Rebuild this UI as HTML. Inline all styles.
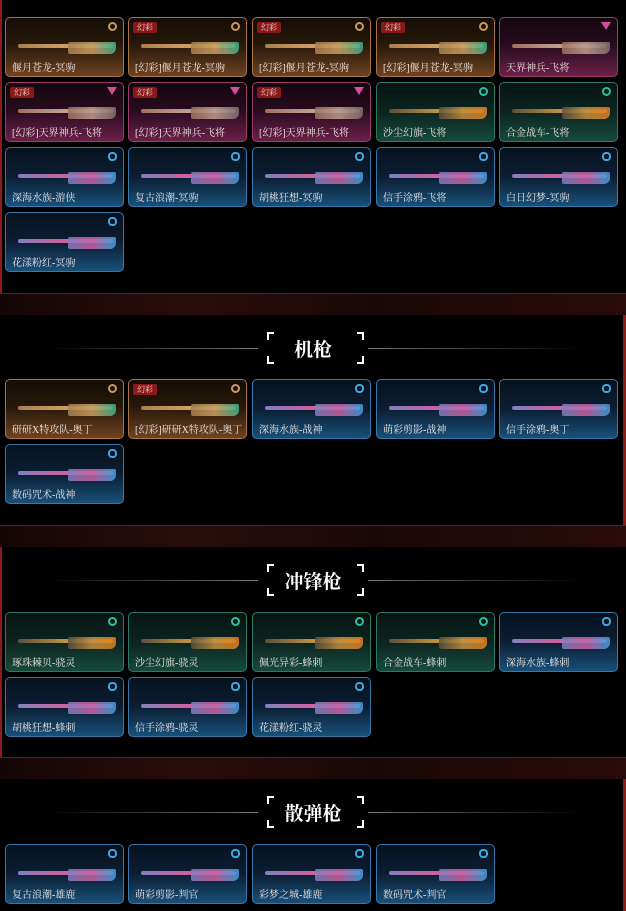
<!DOCTYPE html>
<html><head><meta charset="utf-8"><style>
*{margin:0;padding:0;box-sizing:border-box}
body{width:626px;height:911px;background:#000;position:relative;overflow:hidden;font-family:"Liberation Serif","Noto Serif CJK SC",serif}
.sec{position:absolute;left:0;width:626px;background:#000;border-bottom:1px solid #6a1c1c}
.band{position:absolute;left:0;width:626px;background:linear-gradient(90deg,#140606,#2a0c0c 30%,#1a0808 60%,#2a0a0a);border-top:1px solid #6a1c1c;border-bottom:1px solid #6a1c1c}
.c{position:absolute;width:119px;height:60px;border-radius:5px;border:1px solid;overflow:hidden}
.g{background:linear-gradient(#140d08,#261709 45%,#6e4222);border-color:#a87548}
.p{background:linear-gradient(#14070f,#260b1c 45%,#6a2048);border-color:#9a3c6c}
.n{background:linear-gradient(#061412,#0c241f 50%,#154a3c);border-color:#2c7a62}
.b{background:linear-gradient(#06111e,#0c1e33 50%,#17507a);border-color:#3a78aa}
.c .l{position:absolute;left:6px;bottom:2px;font-size:10px;color:#f0e6e0;white-space:nowrap}
.c .t{position:absolute;left:4px;top:4px;width:24px;height:11px;background:#8a1818;color:#f2d0d0;font-size:8px;line-height:11px;text-align:center;border-radius:2px}
.c .i{position:absolute;right:6px;top:4px;width:9px;height:9px;border-radius:50%;border:2px solid}
.g .i{border-color:#c89a60}.p .i{border:none;width:0;height:0;border-left:5px solid transparent;border-right:5px solid transparent;border-top:8px solid #d050a0;border-radius:0}
.n .i{border-color:#30c0a0}.b .i{border-color:#40a8e0;border-radius:45%}
.c .w{position:absolute;left:12px;top:26px;width:95px;height:4px;border-radius:2px}
.c .s{position:absolute;left:62px;top:24px;width:48px;height:12px;border-radius:2px 2px 6px 2px;opacity:.85}
.g .w,.g .s{background:linear-gradient(90deg,#a88050,#d0a060,#40b090)}
.p .w,.p .s{background:linear-gradient(90deg,#a07060,#c0a090,#807070)}
.n .w,.n .s{background:linear-gradient(90deg,#5a5040,#c09040,#e08020)}
.b .w,.b .s{background:linear-gradient(90deg,#8080c0,#d060a0,#40a0e0)}
.h{position:absolute;left:0;width:626px;height:36px}
.h .ln1{position:absolute;left:45px;top:17px;width:213px;height:1px;background:linear-gradient(90deg,transparent,#777)}
.h .ln2{position:absolute;left:368px;top:17px;width:213px;height:1px;background:linear-gradient(90deg,#777,transparent)}
.h .br{position:absolute;left:267px;top:1px;width:97px;height:32px}
.h .br i{position:absolute;width:7px;height:8px;border:0 solid #fff}
.h .tt{position:absolute;left:0;width:626px;top:4px;text-align:center;color:#fff;font-size:19px;font-weight:bold;font-family:"Liberation Serif","Noto Serif CJK SC",serif}
</style></head><body>

<div class="sec" style="top:0;height:294px;border-left:2px solid #8a1c1c"></div>
<div class="band" style="top:293px;height:23px"></div>
<div class="sec" style="top:315px;height:211px;border-right:3px solid #8a1c1c"></div>
<div class="band" style="top:525px;height:23px"></div>
<div class="sec" style="top:547px;height:211px;border-left:2px solid #8a1c1c"></div>
<div class="band" style="top:757px;height:23px"></div>
<div class="sec" style="top:779px;height:132px;border-bottom:none;border-right:3px solid #8a1c1c"></div>

<div class="c g" style="left:5px;top:17px"><div class="w"></div><div class="s"></div><div class="i"></div><div class="l">偃月苍龙-冥驹</div></div>
<div class="c g" style="left:128px;top:17px"><div class="w"></div><div class="s"></div><div class="t">幻彩</div><div class="i"></div><div class="l">[幻彩]偃月苍龙-冥驹</div></div>
<div class="c g" style="left:252px;top:17px"><div class="w"></div><div class="s"></div><div class="t">幻彩</div><div class="i"></div><div class="l">[幻彩]偃月苍龙-冥驹</div></div>
<div class="c g" style="left:376px;top:17px"><div class="w"></div><div class="s"></div><div class="t">幻彩</div><div class="i"></div><div class="l">[幻彩]偃月苍龙-冥驹</div></div>
<div class="c p" style="left:499px;top:17px"><div class="w"></div><div class="s"></div><div class="i"></div><div class="l">天界神兵-飞将</div></div>

<div class="c p" style="left:5px;top:82px"><div class="w"></div><div class="s"></div><div class="t">幻彩</div><div class="i"></div><div class="l">[幻彩]天界神兵-飞将</div></div>
<div class="c p" style="left:128px;top:82px"><div class="w"></div><div class="s"></div><div class="t">幻彩</div><div class="i"></div><div class="l">[幻彩]天界神兵-飞将</div></div>
<div class="c p" style="left:252px;top:82px"><div class="w"></div><div class="s"></div><div class="t">幻彩</div><div class="i"></div><div class="l">[幻彩]天界神兵-飞将</div></div>
<div class="c n" style="left:376px;top:82px"><div class="w"></div><div class="s"></div><div class="i"></div><div class="l">沙尘幻旗-飞将</div></div>
<div class="c n" style="left:499px;top:82px"><div class="w"></div><div class="s"></div><div class="i"></div><div class="l">合金战车-飞将</div></div>

<div class="c b" style="left:5px;top:147px"><div class="w"></div><div class="s"></div><div class="i"></div><div class="l">深海水族-游侠</div></div>
<div class="c b" style="left:128px;top:147px"><div class="w"></div><div class="s"></div><div class="i"></div><div class="l">复古浪潮-冥驹</div></div>
<div class="c b" style="left:252px;top:147px"><div class="w"></div><div class="s"></div><div class="i"></div><div class="l">胡桃狂想-冥驹</div></div>
<div class="c b" style="left:376px;top:147px"><div class="w"></div><div class="s"></div><div class="i"></div><div class="l">信手涂鸦-飞将</div></div>
<div class="c b" style="left:499px;top:147px"><div class="w"></div><div class="s"></div><div class="i"></div><div class="l">白日幻梦-冥驹</div></div>

<div class="c b" style="left:5px;top:212px"><div class="w"></div><div class="s"></div><div class="i"></div><div class="l">花漾粉红-冥驹</div></div>

<div class="h" style="top:331px"><div class="ln1"></div><div class="ln2"></div><div class="br"><i style="left:0;top:0;border-left-width:2px;border-top-width:2px"></i><i style="right:0;top:0;border-right-width:2px;border-top-width:2px"></i><i style="left:0;bottom:0;border-left-width:2px;border-bottom-width:2px"></i><i style="right:0;bottom:0;border-right-width:2px;border-bottom-width:2px"></i></div><div class="tt">机枪</div></div>
<div class="c g" style="left:5px;top:379px"><div class="w"></div><div class="s"></div><div class="i"></div><div class="l">研研X特攻队-奥丁</div></div>
<div class="c g" style="left:128px;top:379px"><div class="w"></div><div class="s"></div><div class="t">幻彩</div><div class="i"></div><div class="l">[幻彩]研研X特攻队-奥丁</div></div>
<div class="c b" style="left:252px;top:379px"><div class="w"></div><div class="s"></div><div class="i"></div><div class="l">深海水族-战神</div></div>
<div class="c b" style="left:376px;top:379px"><div class="w"></div><div class="s"></div><div class="i"></div><div class="l">萌彩剪影-战神</div></div>
<div class="c b" style="left:499px;top:379px"><div class="w"></div><div class="s"></div><div class="i"></div><div class="l">信手涂鸦-奥丁</div></div>
<div class="c b" style="left:5px;top:444px"><div class="w"></div><div class="s"></div><div class="i"></div><div class="l">数码咒术-战神</div></div>

<div class="h" style="top:563px"><div class="ln1"></div><div class="ln2"></div><div class="br"><i style="left:0;top:0;border-left-width:2px;border-top-width:2px"></i><i style="right:0;top:0;border-right-width:2px;border-top-width:2px"></i><i style="left:0;bottom:0;border-left-width:2px;border-bottom-width:2px"></i><i style="right:0;bottom:0;border-right-width:2px;border-bottom-width:2px"></i></div><div class="tt">冲锋枪</div></div>
<div class="c n" style="left:5px;top:612px"><div class="w"></div><div class="s"></div><div class="i"></div><div class="l">琢珠棘贝-骁灵</div></div>
<div class="c n" style="left:128px;top:612px"><div class="w"></div><div class="s"></div><div class="i"></div><div class="l">沙尘幻旗-骁灵</div></div>
<div class="c n" style="left:252px;top:612px"><div class="w"></div><div class="s"></div><div class="i"></div><div class="l">佩光异彩-蜂刺</div></div>
<div class="c n" style="left:376px;top:612px"><div class="w"></div><div class="s"></div><div class="i"></div><div class="l">合金战车-蜂刺</div></div>
<div class="c b" style="left:499px;top:612px"><div class="w"></div><div class="s"></div><div class="i"></div><div class="l">深海水族-蜂刺</div></div>
<div class="c b" style="left:5px;top:677px"><div class="w"></div><div class="s"></div><div class="i"></div><div class="l">胡桃狂想-蜂刺</div></div>
<div class="c b" style="left:128px;top:677px"><div class="w"></div><div class="s"></div><div class="i"></div><div class="l">信手涂鸦-骁灵</div></div>
<div class="c b" style="left:252px;top:677px"><div class="w"></div><div class="s"></div><div class="i"></div><div class="l">花漾粉红-骁灵</div></div>

<div class="h" style="top:795px"><div class="ln1"></div><div class="ln2"></div><div class="br"><i style="left:0;top:0;border-left-width:2px;border-top-width:2px"></i><i style="right:0;top:0;border-right-width:2px;border-top-width:2px"></i><i style="left:0;bottom:0;border-left-width:2px;border-bottom-width:2px"></i><i style="right:0;bottom:0;border-right-width:2px;border-bottom-width:2px"></i></div><div class="tt">散弹枪</div></div>
<div class="c b" style="left:5px;top:844px"><div class="w"></div><div class="s"></div><div class="i"></div><div class="l">复古浪潮-雄鹿</div></div>
<div class="c b" style="left:128px;top:844px"><div class="w"></div><div class="s"></div><div class="i"></div><div class="l">萌彩剪影-判官</div></div>
<div class="c b" style="left:252px;top:844px"><div class="w"></div><div class="s"></div><div class="i"></div><div class="l">彩梦之城-雄鹿</div></div>
<div class="c b" style="left:376px;top:844px"><div class="w"></div><div class="s"></div><div class="i"></div><div class="l">数码咒术-判官</div></div>

</body></html>
